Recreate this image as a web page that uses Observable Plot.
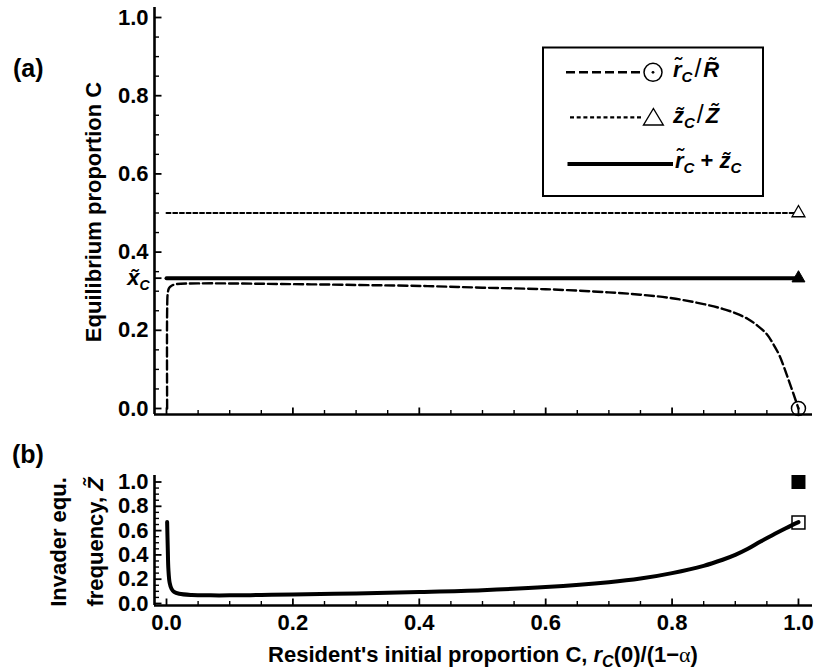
<!DOCTYPE html>
<html><head><meta charset="utf-8">
<script src="https://cdn.jsdelivr.net/npm/d3@7"></script>
<script src="https://cdn.jsdelivr.net/npm/@observablehq/plot@0.6"></script>
<style>
body{margin:0;background:#fff;}
#wrap{position:relative;width:814px;height:671px;font-family:"Liberation Sans",Arial,sans-serif;}
#wrap > svg{position:absolute;left:0;}
</style></head><body><div id="wrap"></div>
<script>
// ---------- data ----------
const xTicks = [0, 0.2, 0.4, 0.6, 0.8, 1.0];
const yTicks = [0, 0.2, 0.4, 0.6, 0.8, 1.0];
const minorTicks = [0.05, 0.1, 0.15, 0.25, 0.3, 0.35, 0.45, 0.5, 0.55, 0.65, 0.7, 0.75, 0.85, 0.9, 0.95];
const xTildeC = 1 / 3;          // r_c + z_c (solid)
const zRatio = 0.5;             // z_c / Z (dotted)
const flatX = [0, 1];
// r_c / R (dashed)
const rX = [0.001, 0.001, 0.002, 0.004, 0.008, 0.015, 0.05, 0.15, 0.3, 0.413, 0.5, 0.6, 0.7, 0.75, 0.8, 0.85, 0.88, 0.9, 0.92, 0.935, 0.95, 0.96, 0.97, 0.985, 1.0];
const rY = [0.0, 0.25, 0.295, 0.308, 0.314, 0.318, 0.32, 0.319, 0.316, 0.313, 0.309, 0.305, 0.297, 0.291, 0.282, 0.267, 0.255, 0.244, 0.229, 0.212, 0.19, 0.165, 0.135, 0.07, 0.0];
// invader equilibrium frequency Z
const zX = [0.001, 0.002, 0.003, 0.005, 0.008, 0.012, 0.02, 0.04, 0.07, 0.1, 0.15, 0.2, 0.3, 0.4, 0.5, 0.6, 0.7, 0.75, 0.8, 0.85, 0.88, 0.9, 0.92, 0.94, 0.96, 0.98, 1.0];
const zY = [0.67, 0.45, 0.28, 0.17, 0.12, 0.095, 0.08, 0.07, 0.067, 0.067, 0.07, 0.074, 0.083, 0.095, 0.11, 0.135, 0.175, 0.205, 0.25, 0.31, 0.36, 0.40, 0.45, 0.51, 0.565, 0.62, 0.67];
const endFilled = 1.0;
const endOpen = 0.667;

const rData = rX.map((x, i) => ({x, y: rY[i]}));
const zData = zX.map((x, i) => ({x, y: zY[i]}));
const xDom = [-0.019, 1.0222];
const yDomA = [-0.01535, 1.0256];
const yDomB = [-0.0165, 1.0535];
const style = {fontFamily: "'Liberation Sans', Arial, sans-serif", fontWeight: "bold", fontSize: "22px", background: "transparent", overflow: "visible"};

// inward tick symbols
const tickRight = len => ({draw(ctx) { ctx.moveTo(0, 0); ctx.lineTo(len, 0); }});
const tickUp = len => ({draw(ctx) { ctx.moveTo(0, 0); ctx.lineTo(0, -len); }});

function axesMarks(yDom, showX, extraY = []) {
  return [
    Plot.ruleX([xDom[0]], {strokeWidth: 2.6}),
    Plot.ruleY([yDom[0]], {strokeWidth: 2.6}),
    Plot.dot([...yTicks, ...extraY], {y: d => d, frameAnchor: "left", symbol: tickRight(7), stroke: "black", fill: "none", strokeWidth: 1.8}),
    Plot.dot(minorTicks, {y: d => d, frameAnchor: "left", symbol: tickRight(4.5), stroke: "black", fill: "none", strokeWidth: 1.4}),
    Plot.dot(xTicks, {x: d => d, frameAnchor: "bottom", symbol: tickUp(7), stroke: "black", fill: "none", strokeWidth: 1.8}),
    Plot.dot(minorTicks, {x: d => d, frameAnchor: "bottom", symbol: tickUp(4.5), stroke: "black", fill: "none", strokeWidth: 1.4}),
    Plot.axisY(yTicks, {tickSize: 0, tickPadding: 6, tickFormat: ".1f", label: null}),
    ...(showX ? [Plot.axisX(xTicks, {tickSize: 0, tickPadding: 9, tickFormat: ".1f", label: null})] : [])
  ];
}

const plotA = Plot.plot({
  width: 814, height: 420,
  marginLeft: 154, marginRight: 2, marginTop: 7, marginBottom: 6,
  x: {domain: xDom, axis: null}, y: {domain: yDomA},
  style,
  marks: [
    ...axesMarks(yDomA, false, [xTildeC]),
    Plot.text([xTildeC], {y: d => d, frameAnchor: "left", text: () => "x\u0303", textAnchor: "end", dx: -15, dy: 0, fontStyle: "italic", fontSize: 22}),
    Plot.text([xTildeC], {y: d => d, frameAnchor: "left", text: () => "C", textAnchor: "end", dx: -5, dy: 7, fontStyle: "italic", fontSize: 14}),
    Plot.line(flatX, {x: d => d, y: () => zRatio, strokeWidth: 2, strokeDasharray: "4,2.7"}),
    Plot.line(flatX, {x: d => d, y: () => xTildeC, strokeWidth: 4}),
    Plot.line(rData, {x: "x", y: "y", strokeWidth: 2.4, strokeDasharray: "9,4", curve: "catmull-rom"}),
    Plot.dot([{x: 1, y: 0}], {x: "x", y: "y", r: 7, stroke: "black", fill: "none", strokeWidth: 1.5}),
    Plot.dot([{x: 1, y: zRatio}], {x: "x", y: "y", symbol: "triangle", r: 4.8, stroke: "black", fill: "white", strokeWidth: 1.3}),
    Plot.dot([{x: 1, y: xTildeC}], {x: "x", y: "y", symbol: "triangle", r: 4.8, stroke: "black", fill: "black", strokeWidth: 1})
  ]
});
plotA.style.top = "0px";

const plotB = Plot.plot({
  width: 814, height: 251,
  marginLeft: 154, marginRight: 2, marginTop: 55, marginBottom: 66,
  x: {domain: xDom}, y: {domain: yDomB},
  style,
  marks: [
    ...axesMarks(yDomB, true),
    Plot.line(zData, {x: "x", y: "y", strokeWidth: 4, strokeLinejoin: "round", curve: "catmull-rom"}),
    Plot.dot([{x: 1, y: endFilled}], {x: "x", y: "y", symbol: "square", r: 7.9, fill: "black", stroke: "none"}),
    Plot.dot([{x: 1, y: endOpen}], {x: "x", y: "y", symbol: "square", r: 7.3, fill: "none", stroke: "black", strokeWidth: 1.5})
  ]
});
plotB.style.top = "420px";

const wrap = document.getElementById("wrap");
wrap.appendChild(plotA);
wrap.appendChild(plotB);

// ---------- overlay: panel labels, axis titles, legend ----------
const ov = d3.select(wrap).append("svg").attr("width", 814).attr("height", 671)
  .style("top", "0px").style("pointer-events", "none")
  .attr("font-family", "'Liberation Sans', Arial, sans-serif").attr("font-weight", "bold");

ov.append("text").attr("x", 13).attr("y", 77).attr("font-size", 25).text("(a)");
ov.append("text").attr("x", 12).attr("y", 463).attr("font-size", 25).text("(b)");

ov.append("text").attr("transform", "translate(101,212) rotate(-90)").attr("text-anchor", "middle")
  .attr("font-size", 22).text("Equilibrium proportion C");
ov.append("text").attr("transform", "translate(66,542) rotate(-90)").attr("text-anchor", "middle")
  .attr("font-size", 22).text("Invader equ.");
const fz = ov.append("text").attr("transform", "translate(103,542) rotate(-90)").attr("text-anchor", "middle")
  .attr("font-size", 22);
fz.append("tspan").text("frequency, ");
fz.append("tspan").attr("font-style", "italic").text("Z\u0303");

const xl = ov.append("text").attr("x", 483).attr("y", 662).attr("text-anchor", "middle").attr("font-size", 22);
xl.append("tspan").text("Resident's initial proportion C, ");
xl.append("tspan").attr("font-style", "italic").text("r");
xl.append("tspan").attr("font-style", "italic").attr("font-size", 16).attr("dy", 5).text("C");
xl.append("tspan").attr("dy", -5).text("(0)/(1\u2212");
xl.append("tspan").attr("font-family", "'Liberation Serif', serif").attr("font-weight", "normal").text("\u03b1");
xl.append("tspan").text(")");

// legend
const lg = ov.append("g");
lg.append("rect").attr("x", 543).attr("y", 47.5).attr("width", 220).attr("height", 148.5)
  .attr("fill", "white").attr("stroke", "black").attr("stroke-width", 2);
lg.append("line").attr("x1", 566).attr("x2", 644).attr("y1", 72.3).attr("y2", 72.3)
  .attr("stroke", "black").attr("stroke-width", 2.6).attr("stroke-dasharray", "9,4");
lg.append("circle").attr("cx", 653).attr("cy", 72.3).attr("r", 9).attr("fill", "none").attr("stroke", "black").attr("stroke-width", 1.5);
lg.append("circle").attr("cx", 653).attr("cy", 72.3).attr("r", 1.4).attr("fill", "black");
lg.append("line").attr("x1", 570).attr("x2", 643).attr("y1", 117.3).attr("y2", 117.3)
  .attr("stroke", "black").attr("stroke-width", 2.2).attr("stroke-dasharray", "4,2.7");
lg.append("path").attr("d", "M643.5,125 L663.3,125 L653.4,108.5 Z").attr("fill", "white").attr("stroke", "black").attr("stroke-width", 1.4);
lg.append("line").attr("x1", 567.5).attr("x2", 673).attr("y1", 164).attr("y2", 164)
  .attr("stroke", "black").attr("stroke-width", 4);

function legendText(x, y, parts) {
  const t = lg.append("text").attr("x", x).attr("y", y).attr("font-size", 22).attr("font-style", "italic");
  parts.forEach(p => {
    const s = t.append("tspan").text(p.t);
    if (p.sub) s.attr("font-size", 15).attr("dy", 5);
    if (p.up) s.attr("dy", -5);
    if (p.dx) s.attr("dx", p.dx);
    if (p.upright) s.attr("font-style", "normal");
    if (p.big) s.attr("font-size", 25).attr("font-weight", "normal");
  });
}
legendText(673, 77, [{t: "r\u0303"}, {t: "C", sub: true}, {t: "/", up: true, dx: 2, upright: true, big: true}, {t: "R\u0303", dx: 2}]);
legendText(673, 123, [{t: "z\u0303"}, {t: "C", sub: true}, {t: "/", up: true, dx: 2, upright: true, big: true}, {t: "Z\u0303", dx: 2}]);
legendText(675, 168, [{t: "r\u0303"}, {t: "C", sub: true}, {t: " + ", up: true, upright: true}, {t: "z\u0303"}, {t: "C", sub: true}]);
</script></body></html>
